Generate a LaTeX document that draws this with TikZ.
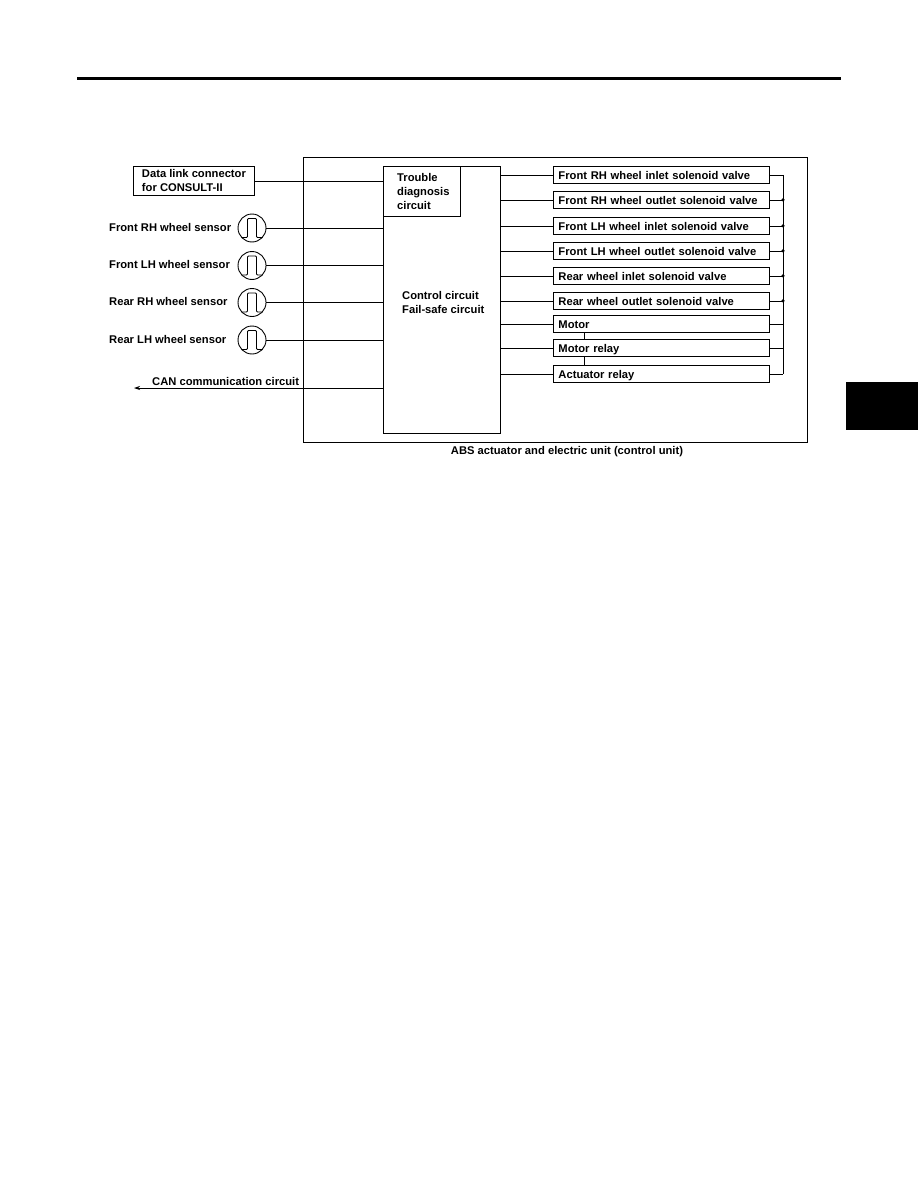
\documentclass[tikz,border=0pt]{standalone}
\usepackage{fontspec}
\setmainfont{Liberation Sans}
\usetikzlibrary{arrows.meta}
\newcommand{\lblfont}{\fontsize{11.2}{14}\selectfont\bfseries}
\tikzset{
  box/.style={draw,line width=0.9pt,inner sep=0pt,anchor=north west},
  valve/.style={box,minimum width=216pt,minimum height=17pt,align=left,text width=206pt,font=\lblfont,text height=9pt,text depth=0pt},
  lbl/.style={font=\lblfont,inner sep=0pt},
  sensor/.style={draw,circle,line width=0.9pt,minimum size=28pt,inner sep=0pt},
  wire/.style={line width=0.8pt},
  dot/.style={circle,fill=black,inner sep=0pt,minimum size=3.5pt}
}
\begin{document}
\begin{tikzpicture}[x=1pt,y=-1pt]
  \useasboundingbox (0,0) rectangle (918,1188);
  \fill[white] (0,0) rectangle (918,1188);
  \fill (77,77) rectangle (841,80);
  \fill (846,382) rectangle (918,430);
  % outer unit
  \node[box,minimum width=504pt,minimum height=285pt] (unit) at (303,157) {};
  \node[lbl] (unitlbl) at (567,452) {ABS actuator and electric unit (control unit)};
  % central block
  \node[box,minimum width=117pt,minimum height=267pt] (ctrl) at (383,166) {};
  \node[box,minimum width=77pt,minimum height=50pt] (diag) at (383,166) {};
  \node[lbl,align=left,anchor=north west] (diaglbl) at (397,173) {Trouble\\diagnosis\\circuit};
  \node[lbl,align=left,anchor=west] (ctrllbl) at (402,302) {Control circuit\\Fail-safe circuit};
  % data link
  \node[box,minimum width=121pt,minimum height=29pt,align=left,font=\lblfont] (dlc) at (133,166) {Data link connector\\for CONSULT-II};
  \draw[wire] (dlc.east) -- (dlc.east -| diag.west);
  % sensors
  \foreach \name/\txt/\ypos in {frh/Front RH wheel sensor/228, flh/Front LH wheel sensor/265.5, rrh/Rear RH wheel sensor/302.5, rlh/Rear LH wheel sensor/340}{
    \node[lbl,anchor=west] (\name lbl) at (109,\ypos-1) {\txt};
    \node[sensor] (\name) at (252,\ypos) {};
    \draw[wire] (\name.west) ++(4,9.5) -- ++(5,0) -- ++(1,-1) -- ++(0,-17) -- ++(1,-1) -- ++(7,0) -- ++(1,1) -- ++(0,17) -- ++(1,1) -- ++(5,0);
    \draw[wire] (\name.east) -- (\name.east -| ctrl.west);
  }
  % can line
  \coordinate (canend) at (134,388);
  \draw[wire,-{Stealth[length=6pt,width=4pt]}] (canend -| ctrl.west) -- (canend);
  \node[lbl,anchor=west] (canlbl) at (152,381) {CAN communication circuit};
  % valves
  \coordinate (bus) at (783,174);
  \foreach \name/\txt/\ypos in {v1/Front RH wheel inlet solenoid valve/166, v2/Front RH wheel outlet solenoid valve/191, v3/Front LH wheel inlet solenoid valve/217, v4/Front LH wheel outlet solenoid valve/242, v5/Rear wheel inlet solenoid valve/267, v6/Rear wheel outlet solenoid valve/292, v7/Motor/315, v8/Motor relay/339, v9/Actuator relay/365}{
    \node[valve] (\name) at (553,\ypos) {\txt};
    \draw[wire] (\name.west -| ctrl.east) -- (\name.west);
    \draw[wire] (\name.east) -- (\name.east -| bus);
  }
  \draw[wire] (v1.east -| bus) -- (v9.east -| bus);
  \foreach \name in {v2,v3,v4,v5,v6}{
    \node[dot] (\name dot) at (\name.east -| bus) {};
  }
  \draw[wire] (v7.south west) ++(31,0) -- ++(0,7);
  \draw[wire] (v8.south west) ++(31,0) -- ++(0,8);
\end{tikzpicture}
\end{document}
